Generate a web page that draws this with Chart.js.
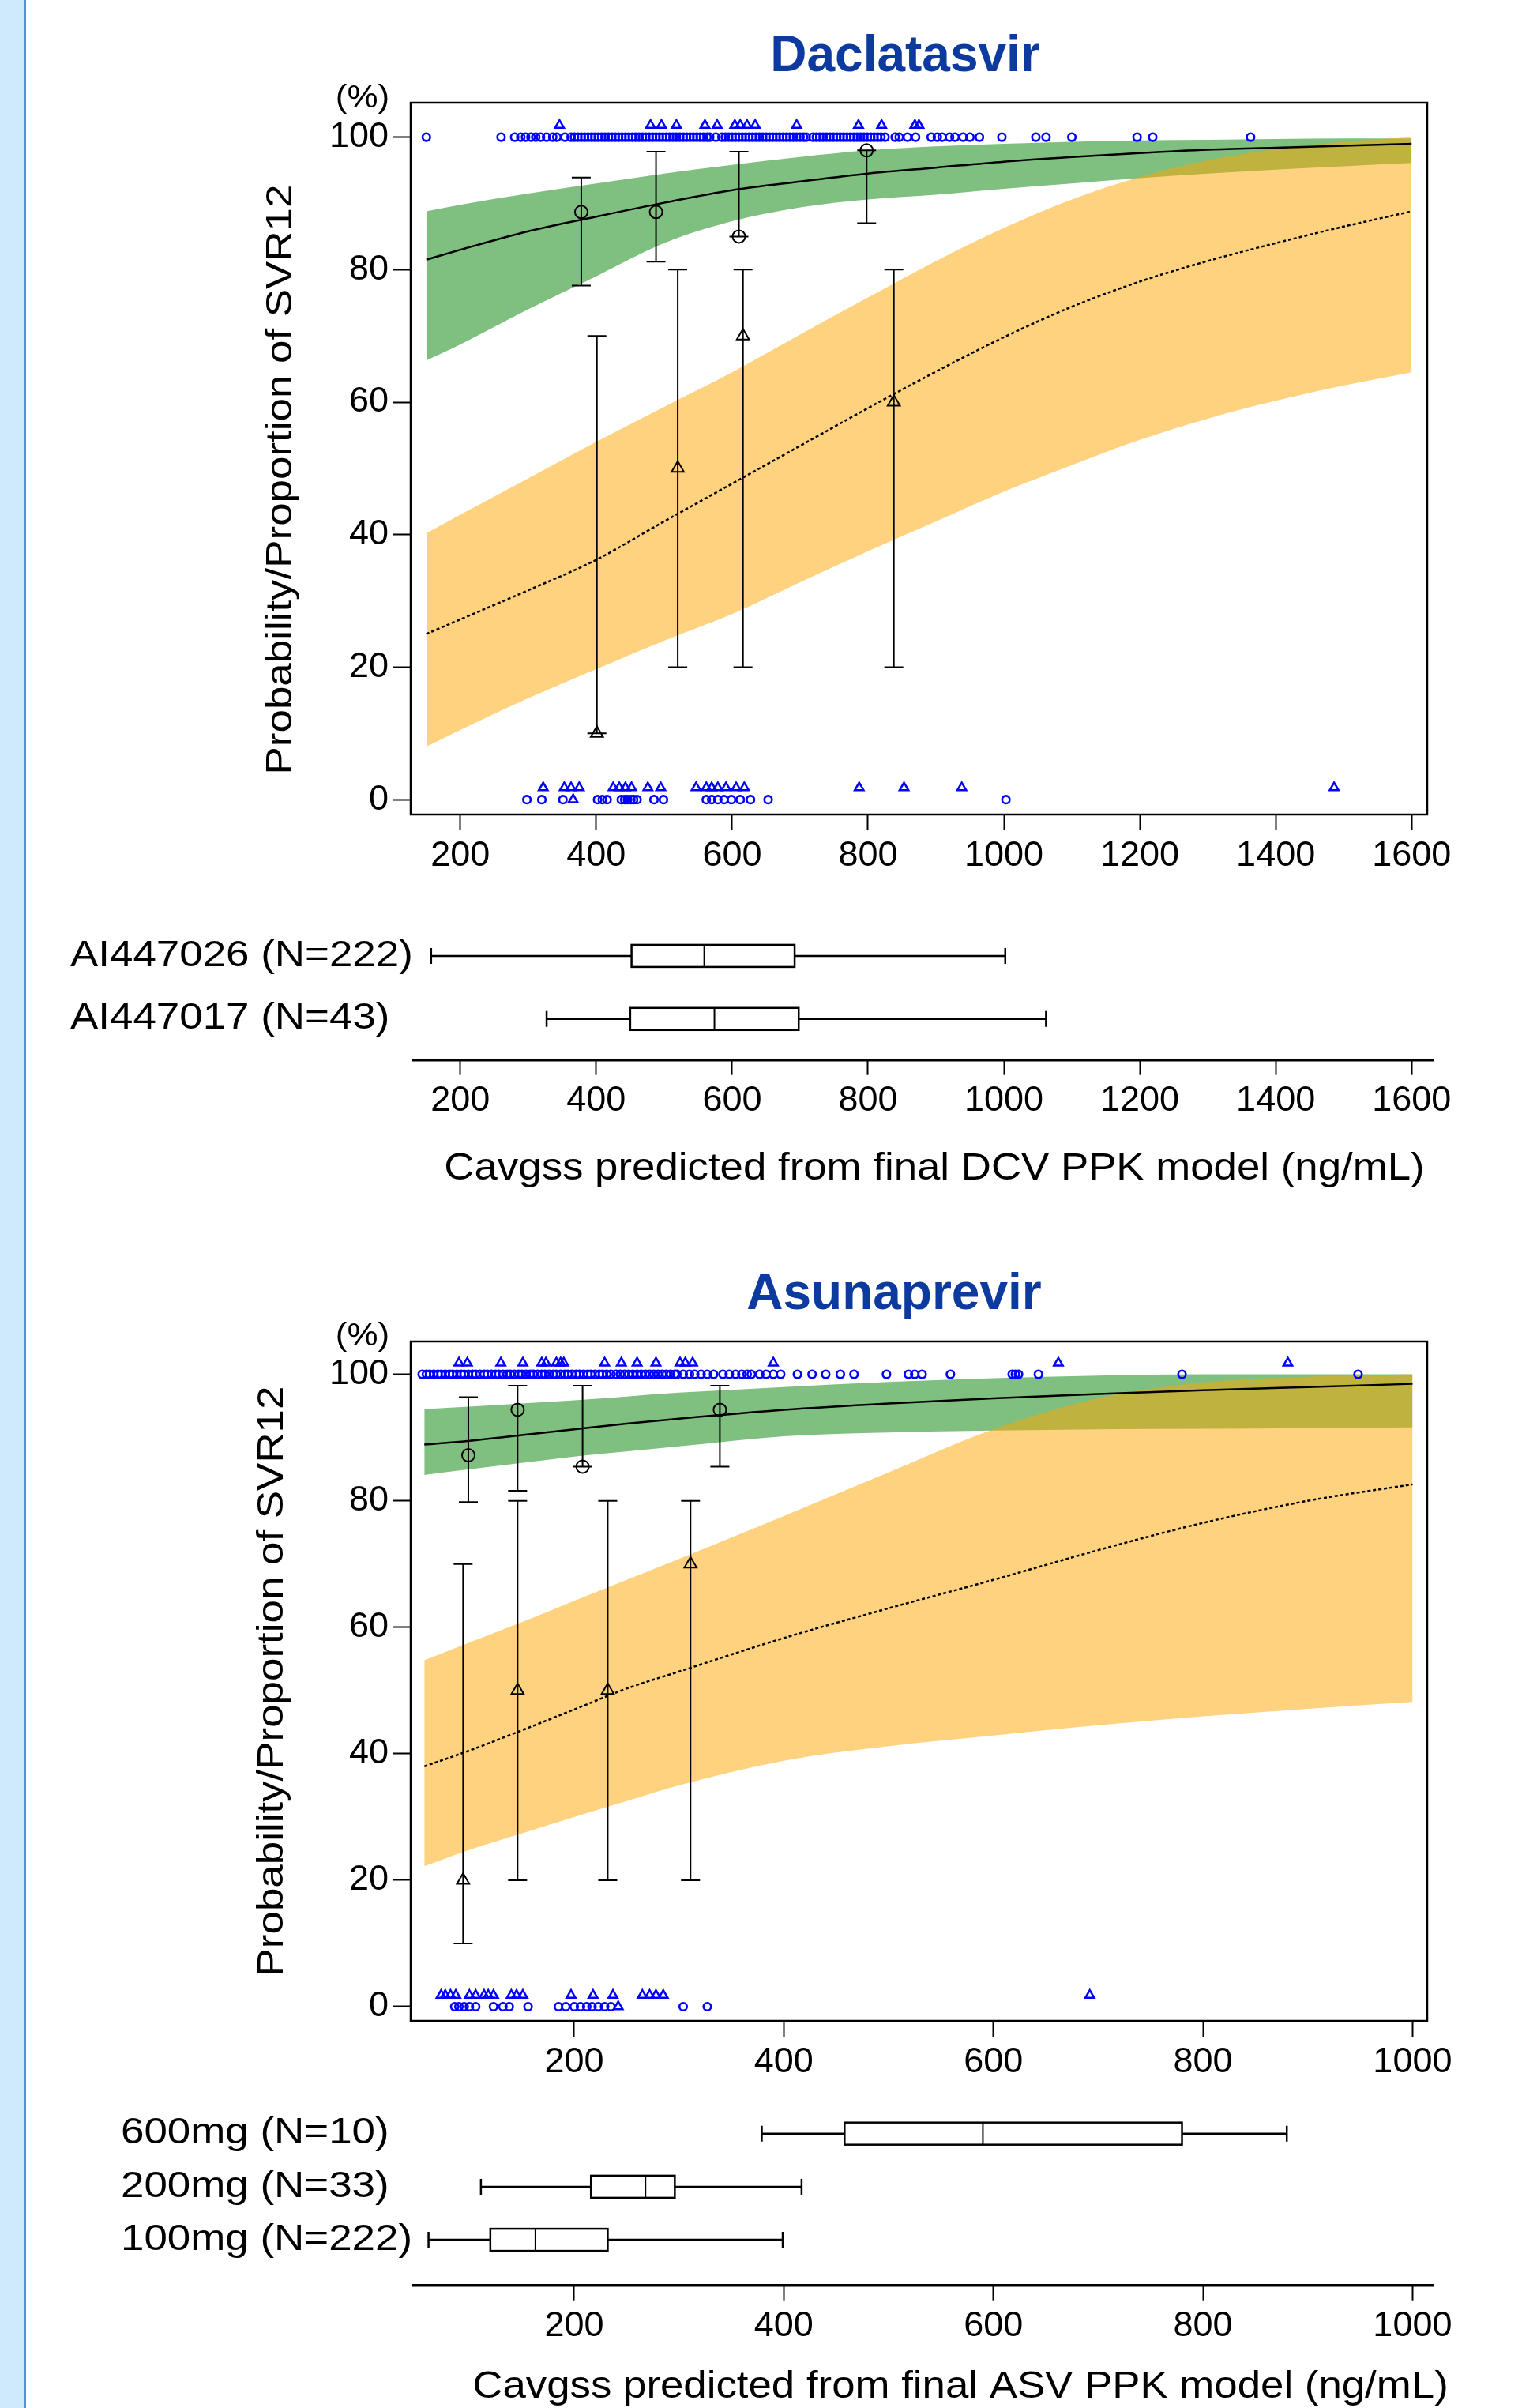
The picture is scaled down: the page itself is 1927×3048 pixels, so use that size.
<!DOCTYPE html>
<html>
<head>
<meta charset="utf-8">
<script src="https://cdn.jsdelivr.net/npm/chart.js@4.4.1/dist/chart.umd.min.js"></script>
<style>
  html, body { margin: 0; padding: 0; background: #fff; }
  body { width: 1927px; height: 3048px; position: relative; overflow: hidden; }
  #strip { position: absolute; left: 0; top: 0; width: 31px; height: 3048px; background: #cfe9fd; border-right: 2px solid #4f93d8; }
  canvas { position: absolute; left: 0; }
</style>
</head>
<body>
<div id="strip"></div>
<canvas id="dcvMain" width="1927" height="1120" style="top:0px"></canvas>
<canvas id="dcvBox" width="1927" height="430" style="top:1120px"></canvas>
<canvas id="asvMain" width="1927" height="1080" style="top:1560px"></canvas>
<canvas id="asvBox" width="1927" height="408" style="top:2640px"></canvas>
<script>
const FONT = "'Liberation Sans', Arial, Helvetica, sans-serif";

// ---- Daclatasvir model curves (Cavgss ng/mL -> probability %)
const dcvCurveX = [150, 200, 300, 400, 500, 600, 700, 800, 900, 1000, 1100, 1200, 1300, 1400, 1500, 1600];
const dcvGreenHi = [88.8, 89.8, 91.5, 93, 94.5, 95.8, 97, 98, 98.6, 99, 99.3, 99.5, 99.6, 99.7, 99.8, 99.8];
const dcvGreenLo = [66.3, 68.7, 74, 79, 84, 87.3, 89.4, 90.6, 91.3, 92.2, 93, 93.8, 94.5, 95.1, 95.6, 96.1];
const dcvGreenMid = [81.5, 83, 85.8, 88, 90.1, 92, 93.3, 94.5, 95.4, 96.3, 97, 97.6, 98.1, 98.4, 98.7, 99];
const dcvOrangeHi = [40.2, 43, 48.5, 54, 59.3, 64.5, 70.2, 75.8, 81.3, 86.3, 90.6, 94, 96.5, 98.2, 99.3, 100];
const dcvOrangeLo = [8, 10.5, 15.3, 19.7, 24, 28, 32.8, 37.5, 42, 46.5, 50.5, 54.3, 57.5, 60.2, 62.5, 64.5];
const dcvOrangeMid = [25, 27.2, 31.6, 36.2, 42, 47.7, 53.4, 59.1, 64.6, 69.8, 74.4, 78.2, 81.3, 84, 86.5, 88.8];

// ---- Daclatasvir observed proportions with 95% CI
const dcvObsAx = [378, 488, 610, 798];
const dcvObsAy = [88.7, 88.7, 85, 98];
const dcvObsAlo = [77.6, 81.2, 85, 87];
const dcvObsAhi = [93.9, 97.8, 97.8, 98];
const dcvObsBx = [401, 520, 616, 838];
const dcvObsBy = [10, 50, 70, 60];
const dcvObsBlo = [10, 20, 20, 20];
const dcvObsBhi = [70, 80, 80, 80];

// ---- Daclatasvir individual outcomes (rug)
const dcvRugA100 = [150, 260, 280, 289, 296, 304, 311, 318, 327, 336, 342, 354, 363, 368, 373, 378, 383, 388, 393, 398,
  403, 408, 413, 418, 423, 428, 433, 438, 443, 448, 453, 458, 463, 468, 473, 478, 483, 488, 493, 498, 503, 508, 513,
  518, 523, 528, 533, 538, 543, 548, 553, 558, 563, 567, 576, 585, 590, 595, 600, 605, 610, 615, 620, 625, 630, 635,
  640, 645, 650, 655, 660, 665, 670, 675, 680, 685, 690, 695, 700, 705, 709, 719, 724, 729, 734, 739, 744, 749, 754,
  759, 764, 769, 774, 779, 784, 789, 794, 799, 804, 809, 814, 819, 825, 840, 846, 858, 870, 893, 902, 909, 920, 928,
  940, 950, 964, 997, 1047, 1062, 1100, 1196, 1219, 1363];
const dcvRugB100 = [346, 480, 496, 518, 560, 578, 604, 612, 622, 634, 695, 786, 820, 869, 875];
const dcvRugA0 = [298, 320, 351, 402, 409, 416, 437, 442, 446, 451, 455, 460, 485, 499, 562, 570, 579, 588, 599, 612, 627, 653, 1003];
const dcvRugB0 = [366];
const dcvRugB2 = [322, 353, 363, 375, 425, 434, 443, 452, 476, 495, 547, 562, 570, 579, 591, 606, 618, 787, 853, 938, 1486];

// ---- Daclatasvir exposure box plots by study
const dcvBoxLabels = ['AI447026 (N=222)', 'AI447017 (N=43)'];
const dcvBoxMin = [157, 327];
const dcvBoxQ1 = [452, 450];
const dcvBoxMed = [559, 574];
const dcvBoxQ3 = [692, 698];
const dcvBoxMax = [1002, 1062];
const dcvTicks = [200, 400, 600, 800, 1000, 1200, 1400, 1600];

// ---- Asunaprevir model curves
const asvCurveX = [57, 100, 150, 200, 250, 300, 400, 500, 600, 700, 800, 900, 1000];
const asvGreenHi = [94.5, 94.9, 95.4, 95.9, 96.5, 97.1, 98, 98.8, 99.4, 99.8, 100, 100, 100];
const asvGreenLo = [84.1, 85, 86, 87, 87.8, 88.6, 90.2, 90.8, 91.1, 91.3, 91.4, 91.5, 91.6];
const asvGreenMid = [88.9, 89.5, 90.4, 91.3, 92.2, 93, 94.4, 95.4, 96.2, 96.9, 97.5, 98, 98.5];
const asvOrangeHi = [54.8, 57.6, 60.8, 64.2, 67.5, 70.8, 77.6, 84.5, 91.3, 96.2, 98.7, 99.6, 100];
const asvOrangeLo = [22.2, 24.8, 27.4, 30, 32.5, 35, 38.9, 41.2, 42.9, 44.5, 45.9, 47.1, 48.2];
const asvOrangeMid = [38, 40.5, 43.7, 47, 50.3, 53, 58.3, 63, 67.5, 72.2, 76.5, 80, 82.6];

// ---- Asunaprevir observed proportions with 95% CI
const asvObsAx = [99, 146, 208, 339];
const asvObsAy = [87.2, 94.4, 85.4, 94.4];
const asvObsAlo = [79.8, 81.6, 85.4, 85.4];
const asvObsAhi = [96.4, 98.2, 98.2, 98.2];
const asvObsBx = [94, 146, 232, 311];
const asvObsBy = [20, 50, 50, 70];
const asvObsBlo = [10, 20, 20, 20];
const asvObsBhi = [70, 80, 80, 80];

// ---- Asunaprevir individual outcomes (rug)
const asvRugA100 = [55, 59, 62, 66, 70, 73, 77, 81, 84, 88, 92, 95, 99, 103, 106, 110, 114, 117, 121, 125, 128, 132,
  136, 139, 143, 147, 150, 154, 158, 161, 165, 169, 172, 176, 180, 183, 187, 191, 194, 198, 202, 205, 209, 213, 216,
  220, 224, 227, 231, 235, 240, 244, 248, 252, 256, 260, 264, 268, 272, 276, 280, 284, 288, 292, 296, 298, 304, 310,
  315, 321, 327, 333, 342, 348, 354, 360, 365, 369, 377, 383, 390, 397, 413, 427, 440, 454, 467, 498, 519, 525, 532,
  559, 618, 621, 624, 643, 780, 948];
const asvRugB100 = [90, 98, 130, 151, 169, 173, 183, 187, 190, 229, 245, 260, 278, 301, 306, 313, 390, 662, 881];
const asvRugA0 = [86, 90, 95, 100, 106, 123, 132, 138, 156, 185, 192, 200, 206, 212, 217, 223, 229, 235, 304, 327];
const asvRugB0 = [242];
const asvRugB2 = [73, 77, 82, 87, 100, 106, 114, 118, 123, 140, 145, 151, 197, 218, 237, 265, 272, 278, 285, 692];

// ---- Asunaprevir exposure box plots by dose
const asvBoxLabels = ['600mg (N=10)', '200mg (N=33)', '100mg (N=222)'];
const asvBoxMin = [379, 111, 61];
const asvBoxQ1 = [458, 216, 120];
const asvBoxMed = [590, 268, 163];
const asvBoxQ3 = [780, 296, 232];
const asvBoxMax = [880, 417, 399];
const asvTicks = [200, 400, 600, 800, 1000];
const probTicks = [0, 20, 40, 60, 80, 100];

const GREEN = 'rgba(0,128,0,0.5)';
const ORANGE = 'rgba(255,165,0,0.5)';
const RUG = '#0000ff';

function pts(xs, ys) { return xs.map((x, i) => ({ x, y: ys[i] })); }
function flat(xs, y) { return xs.map(x => ({ x, y })); }

function textPlugin(items) {
  return {
    id: 'texts',
    afterDraw(chart) {
      const ctx = chart.ctx;
      items.forEach(t => {
        ctx.save();
        ctx.translate(t.x, t.y);
        if (t.rotate) ctx.rotate(t.rotate * Math.PI / 180);
        ctx.scale(t.sx || 1, 1);
        ctx.font = (t.bold ? 'bold ' : '') + t.size + 'px ' + FONT;
        ctx.fillStyle = t.color || '#000';
        ctx.textAlign = t.align || 'center';
        ctx.textBaseline = t.baseline || 'alphabetic';
        ctx.fillText(t.text, 0, 0);
        ctx.restore();
      });
    }
  };
}

const framePlugin = {
  id: 'frame',
  afterDraw(chart) {
    const { ctx, chartArea: a } = chart;
    ctx.save();
    ctx.strokeStyle = '#000';
    ctx.lineWidth = 2.5;
    ctx.strokeRect(a.left, a.top, a.right - a.left, a.bottom - a.top);
    ctx.restore();
  }
};

function errorBarPlugin(sets) {
  return {
    id: 'errbars',
    afterDatasetsDraw(chart) {
      const { ctx, scales: { x, y } } = chart;
      ctx.save();
      ctx.strokeStyle = '#000';
      ctx.lineWidth = 2;
      sets.forEach(s => {
        s.x.forEach((v, i) => {
          const px = x.getPixelForValue(v);
          const lo = y.getPixelForValue(s.lo[i]);
          const hi = y.getPixelForValue(s.hi[i]);
          ctx.beginPath();
          ctx.moveTo(px, lo); ctx.lineTo(px, hi);
          ctx.moveTo(px - 12, lo); ctx.lineTo(px + 12, lo);
          ctx.moveTo(px - 12, hi); ctx.lineTo(px + 12, hi);
          ctx.stroke();
        });
      });
      ctx.restore();
    }
  };
}

function boxPlugin(b) {
  return {
    id: 'boxes',
    afterDraw(chart) {
      const { ctx, chartArea: a, scales: { x, y } } = chart;
      ctx.save();
      // axis line
      ctx.strokeStyle = '#000';
      ctx.lineWidth = 3.5;
      ctx.beginPath();
      ctx.moveTo(a.left + 2, a.bottom);
      ctx.lineTo(a.right + 9, a.bottom);
      ctx.stroke();
      ctx.lineWidth = 2.5;
      b.labels.forEach((lab, i) => {
        const py = y.getPixelForValue(i);
        const p = k => x.getPixelForValue(k);
        ctx.beginPath();
        ctx.moveTo(p(b.min[i]), py); ctx.lineTo(p(b.q1[i]), py);
        ctx.moveTo(p(b.q3[i]), py); ctx.lineTo(p(b.max[i]), py);
        ctx.moveTo(p(b.min[i]), py - 10); ctx.lineTo(p(b.min[i]), py + 10);
        ctx.moveTo(p(b.max[i]), py - 10); ctx.lineTo(p(b.max[i]), py + 10);
        ctx.stroke();
        ctx.fillStyle = '#fff';
        ctx.fillRect(p(b.q1[i]), py - 14, p(b.q3[i]) - p(b.q1[i]), 28);
        ctx.strokeRect(p(b.q1[i]), py - 14, p(b.q3[i]) - p(b.q1[i]), 28);
        ctx.lineWidth = 2;
        ctx.beginPath();
        ctx.moveTo(p(b.med[i]), py - 14); ctx.lineTo(p(b.med[i]), py + 14);
        ctx.stroke();
        ctx.lineWidth = 2.5;
        ctx.save();
        ctx.translate(b.labelX, py);
        ctx.scale(1.15, 1);
        ctx.font = '46px ' + FONT;
        ctx.fillStyle = '#000';
        ctx.textAlign = 'left';
        ctx.textBaseline = 'middle';
        ctx.fillText(lab, 0, 0);
        ctx.restore();
      });
      ctx.restore();
    }
  };
}

function tickFont() { return { size: 45, family: FONT }; }
const plain = v => String(v);

function band(data, extra) {
  return Object.assign({ data, showLine: true, borderWidth: 0, pointRadius: 0, cubicInterpolationMode: 'monotone' }, extra);
}
function marks(data, style, r, bw, color, order) {
  return { data, showLine: false, pointStyle: style, pointRadius: r, pointBorderWidth: bw,
    pointBorderColor: color, pointBackgroundColor: 'rgba(0,0,0,0)', order };
}

function mainChart(id, c) {
  const datasets = [
    band(pts(c.cx, c.gLo), { fill: false, order: 10 }),
    band(pts(c.cx, c.gHi), { fill: 0, backgroundColor: GREEN, order: 10 }),
    band(pts(c.cx, c.oLo), { fill: false, order: 9 }),
    band(pts(c.cx, c.oHi), { fill: 2, backgroundColor: ORANGE, order: 9 }),
    band(pts(c.cx, c.gMid), { fill: false, borderColor: '#000', borderWidth: 2.5, order: 5 }),
    band(pts(c.cx, c.oMid), { fill: false, borderColor: '#000', borderWidth: 2.5, borderDash: [4, 3], order: 5 }),
    marks(pts(c.obsA.x, c.obsA.y), 'circle', 8, 2, '#000', 3),
    marks(pts(c.obsB.x, c.obsB.y), 'triangle', 9, 2, '#000', 3),
    marks(flat(c.rugA100, 100), 'circle', 4.8, 2.6, RUG, 1),
    marks(flat(c.rugB100, 101.8), 'triangle', 6.5, 2.5, RUG, 1),
    marks(flat(c.rugA0, 0), 'circle', 4.8, 2.6, RUG, 1),
    marks(flat(c.rugB0, 0), 'triangle', 6.5, 2.5, RUG, 1),
    marks(flat(c.rugB2, 1.8), 'triangle', 6.5, 2.5, RUG, 1)
  ];
  return new Chart(document.getElementById(id), {
    type: 'scatter',
    data: { datasets },
    options: {
      responsive: false,
      animation: false,
      devicePixelRatio: 1,
      events: [],
      layout: { padding: { left: 0, right: 120, top: c.padTop, bottom: 0 } },
      plugins: { legend: { display: false }, tooltip: { enabled: false } },
      scales: {
        x: {
          type: 'linear', min: c.xMin, max: c.xMax,
          afterBuildTicks: s => { s.ticks = c.ticks.map(v => ({ value: v })); },
          afterFit: s => { s.height = c.xAxisH; },
          grid: { drawOnChartArea: false, tickLength: 20, tickColor: '#000', tickWidth: 2, color: '#000' },
          border: { display: false },
          ticks: { font: tickFont(), color: '#000', padding: 6, maxRotation: 0, autoSkip: false, callback: plain }
        },
        y: {
          type: 'linear', min: -2.25, max: 105.2,
          afterBuildTicks: s => { s.ticks = probTicks.map(v => ({ value: v })); },
          afterFit: s => { s.width = 520; },
          grid: { drawOnChartArea: false, tickLength: 22, tickColor: '#000', tickWidth: 2, color: '#000' },
          border: { display: false },
          ticks: { font: tickFont(), color: '#000', padding: 6, callback: plain }
        }
      }
    },
    plugins: [framePlugin, errorBarPlugin([c.obsA, c.obsB]), textPlugin(c.texts)]
  });
}

function boxChart(id, c) {
  return new Chart(document.getElementById(id), {
    type: 'scatter',
    data: { datasets: [] },
    options: {
      responsive: false,
      animation: false,
      devicePixelRatio: 1,
      events: [],
      layout: { padding: { left: 520, right: 120, top: c.padTop, bottom: 0 } },
      plugins: { legend: { display: false }, tooltip: { enabled: false } },
      scales: {
        x: {
          type: 'linear', min: c.xMin, max: c.xMax,
          afterBuildTicks: s => { s.ticks = c.ticks.map(v => ({ value: v })); },
          afterFit: s => { s.height = c.xAxisH; },
          grid: { drawOnChartArea: false, tickLength: 19, tickColor: '#000', tickWidth: 2, color: '#000' },
          border: { display: false },
          ticks: { font: tickFont(), color: '#000', padding: 6, maxRotation: 0, autoSkip: false, callback: plain }
        },
        y: { type: 'linear', display: false, min: c.yMin, max: c.yMax, reverse: true }
      }
    },
    plugins: [boxPlugin(c.box), textPlugin(c.texts)]
  });
}

mainChart('dcvMain', {
  cx: dcvCurveX, gLo: dcvGreenLo, gHi: dcvGreenHi, gMid: dcvGreenMid,
  oLo: dcvOrangeLo, oHi: dcvOrangeHi, oMid: dcvOrangeMid,
  obsA: { x: dcvObsAx, y: dcvObsAy, lo: dcvObsAlo, hi: dcvObsAhi },
  obsB: { x: dcvObsBx, y: dcvObsBy, lo: dcvObsBlo, hi: dcvObsBhi },
  rugA100: dcvRugA100, rugB100: dcvRugB100, rugA0: dcvRugA0, rugB0: dcvRugB0, rugB2: dcvRugB2,
  xMin: 127, xMax: 1623, ticks: dcvTicks, padTop: 130, xAxisH: 89,
  texts: [
    { text: 'Daclatasvir', x: 1146, y: 90, size: 64, bold: true, color: '#0c3a9e' },
    { text: '(%)', x: 459, y: 125, size: 40, sx: 1.1, baseline: 'middle' },
    { text: 'Probability/Proportion of SVR12', x: 356, y: 607, size: 46, sx: 1.15, rotate: -90, baseline: 'middle' }
  ]
});

boxChart('dcvBox', {
  xMin: 127, xMax: 1623, ticks: dcvTicks, padTop: 30, xAxisH: 208.3, yMin: -0.75, yMax: 1.65,
  box: { labels: dcvBoxLabels, min: dcvBoxMin, q1: dcvBoxQ1, med: dcvBoxMed, q3: dcvBoxQ3, max: dcvBoxMax, labelX: 89 },
  texts: [
    { text: 'Cavgss predicted from final DCV PPK model (ng/mL)', x: 1183, y: 373, size: 48, sx: 1.1 }
  ]
});

mainChart('asvMain', {
  cx: asvCurveX, gLo: asvGreenLo, gHi: asvGreenHi, gMid: asvGreenMid,
  oLo: asvOrangeLo, oHi: asvOrangeHi, oMid: asvOrangeMid,
  obsA: { x: asvObsAx, y: asvObsAy, lo: asvObsAlo, hi: asvObsAhi },
  obsB: { x: asvObsBx, y: asvObsBy, lo: asvObsBlo, hi: asvObsBhi },
  rugA100: asvRugA100, rugB100: asvRugB100, rugA0: asvRugA0, rugB0: asvRugB0, rugB2: asvRugB2,
  xMin: 44, xMax: 1014, ticks: asvTicks, padTop: 138, xAxisH: 82,
  texts: [
    { text: 'Asunaprevir', x: 1132, y: 97, size: 64, bold: true, color: '#0c3a9e' },
    { text: '(%)', x: 459, y: 132, size: 40, sx: 1.1, baseline: 'middle' },
    { text: 'Probability/Proportion of SVR12', x: 345, y: 568, size: 46, sx: 1.15, rotate: -90, baseline: 'middle' }
  ]
});

boxChart('asvBox', {
  xMin: 44, xMax: 1014, ticks: asvTicks, padTop: 10, xAxisH: 155.3, yMin: -0.754, yMax: 2.857,
  box: { labels: asvBoxLabels, min: asvBoxMin, q1: asvBoxQ1, med: asvBoxMed, q3: asvBoxQ3, max: asvBoxMax, labelX: 153 },
  texts: [
    { text: 'Cavgss predicted from final ASV PPK model (ng/mL)', x: 1216, y: 395, size: 48, sx: 1.1 }
  ]
});
</script>
</body>
</html>
